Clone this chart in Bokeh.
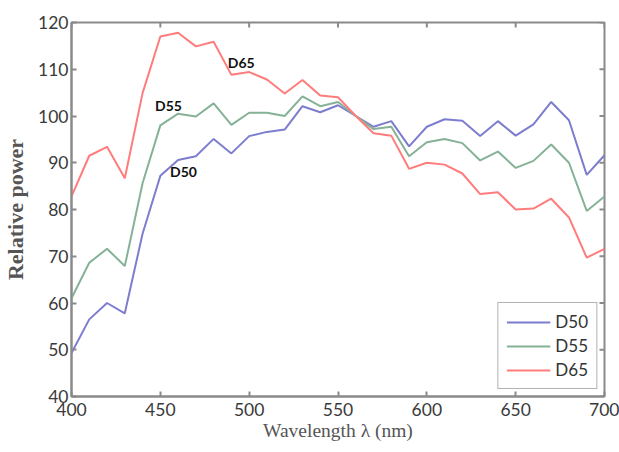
import math
from bokeh.plotting import figure
from bokeh.models import FixedTicker, Legend, LegendItem, Range1d
from bokeh.core.properties import value
from bokeh.embed import file_html
from bokeh.resources import INLINE

wavelength = [400, 410, 420, 430, 440, 450, 460, 470, 480, 490, 500, 510, 520, 530, 540, 550,
              560, 570, 580, 590, 600, 610, 620, 630, 640, 650, 660, 670, 680, 690, 700]
d50 = [49.3, 56.5, 60.0, 57.8, 74.8, 87.2, 90.6, 91.4, 95.1, 92.0, 95.7, 96.6, 97.1, 102.1, 100.8, 102.3,
       100.0, 97.7, 98.9, 93.5, 97.7, 99.3, 99.0, 95.7, 98.9, 95.8, 98.2, 103.0, 99.1, 87.4, 91.6]
d55 = [61.0, 68.6, 71.6, 67.9, 85.6, 98.0, 100.5, 99.9, 102.7, 98.1, 100.7, 100.7, 100.0, 104.2, 102.1, 103.0,
       100.0, 97.2, 97.7, 91.4, 94.4, 95.1, 94.2, 90.5, 92.4, 88.9, 90.4, 93.9, 90.0, 79.7, 82.8]
d65 = [82.8, 91.5, 93.4, 86.7, 104.9, 117.0, 117.8, 114.9, 115.9, 108.8, 109.4, 107.8, 104.8, 107.7, 104.4, 104.0,
       100.0, 96.3, 95.8, 88.7, 90.0, 89.6, 87.7, 83.3, 83.7, 80.0, 80.2, 82.3, 78.3, 69.7, 71.6]
series_names = ["D50", "D55", "D65"]
series_colors = ["#7d7dd0", "#85b297", "#ff7c7c"]
x_ticks = [400, 450, 500, 550, 600, 650, 700]
y_ticks = [40, 50, 60, 70, 80, 90, 100, 110, 120]
x_min, x_max = 400, 700
y_min, y_max = 40, 120
annot_x = [488, 447, 455.5]
annot_y = [111.5, 102.3, 88.2]
annot_text = ["D65", "D55", "D50"]

p = figure(width=619, height=452, output_backend="svg", toolbar_location=None,
           x_range=Range1d(x_min, x_max), y_range=Range1d(y_min, y_max),
           min_border_left=71, min_border_right=15, min_border_top=22, min_border_bottom=56)
p.xgrid.visible = False
p.ygrid.visible = False
p.outline_line_color = "#8a8a8a"
p.outline_line_width = 2

tick_font = "Lato"
for ax in [p.xaxis[0], p.yaxis[0]]:
    ax.major_tick_in = 5
    ax.major_tick_out = 0
    ax.minor_tick_in = 0
    ax.minor_tick_out = 0
    ax.axis_line_color = "#8a8a8a"
    ax.axis_line_width = 2
    ax.major_tick_line_color = "#8a8a8a"
    ax.major_tick_line_width = 2
    ax.major_label_text_font = tick_font
    ax.major_label_text_font_size = "17.5px"
    ax.major_label_text_color = "#3a3a3a"
    ax.axis_label_text_font = "Liberation Serif"
    ax.axis_label_text_color = "#555555"

p.xaxis[0].ticker = FixedTicker(ticks=x_ticks)
p.yaxis[0].ticker = FixedTicker(ticks=y_ticks)
p.xaxis[0].axis_label = "Wavelength λ (nm)"
p.yaxis[0].axis_label = "Relative power"
p.xaxis[0].axis_label_text_font_style = "normal"
p.xaxis[0].axis_label_text_font_size = "19.5px"
p.yaxis[0].axis_label_text_font_style = "bold"
p.yaxis[0].axis_label_text_font_size = "22px"
p.xaxis[0].major_label_standoff = 6
p.yaxis[0].major_label_standoff = 3
p.xaxis[0].axis_label_standoff = 1
p.yaxis[0].axis_label_standoff = 7

# inward ticks on the top and right edges of the box
p.ray(x=x_ticks, y=[y_max] * len(x_ticks), length=5, length_units="screen",
      angle=-math.pi / 2, line_color="#8a8a8a", line_width=2)
p.ray(x=[x_max] * len(y_ticks), y=y_ticks, length=5, length_units="screen",
      angle=math.pi, line_color="#8a8a8a", line_width=2)

items = []
for name, ys, col in zip(series_names, [d50, d55, d65], series_colors):
    r = p.line(wavelength, ys, line_color=col, line_width=2)
    items.append(LegendItem(label=name, renderers=[r]))

p.text(annot_x, annot_y, text=annot_text, text_font=value("Lato"), text_font_size="14px",
       text_font_style="bold", text_color="#111111", text_baseline="middle", text_align="left")

legend = Legend(items=items, location="bottom_right")
legend.margin = 7
legend.padding = 8
legend.spacing = 3
legend.glyph_width = 44
legend.glyph_height = 20
legend.label_height = 20
legend.label_standoff = 5
legend.label_text_font = tick_font
legend.label_text_font_size = "17px"
legend.label_text_color = "#333333"
legend.border_line_color = "#666666"
legend.border_line_width = 1.5
legend.background_fill_color = "white"
p.add_layout(legend)

open("out.html", "w").write(file_html(p, INLINE))
